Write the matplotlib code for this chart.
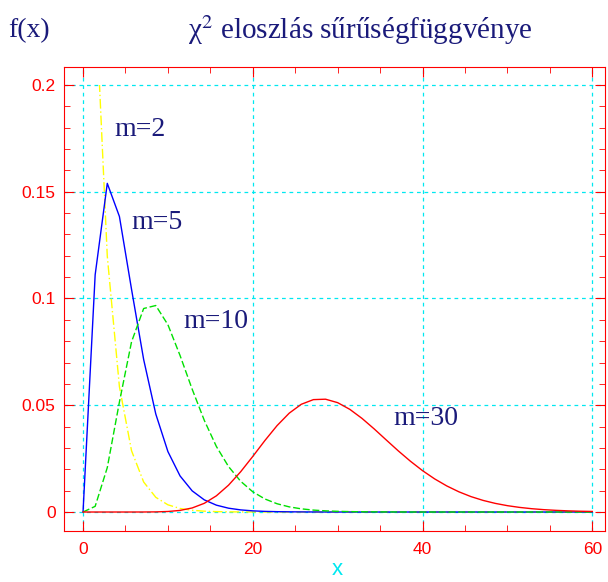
import matplotlib
matplotlib.use('Agg')
import matplotlib.pyplot as plt
from matplotlib.patches import Rectangle
from matplotlib.ticker import MultipleLocator

# sampling grid, 43 points from 0 to 60
x = [0, 1.429, 2.857, 4.286, 5.714, 7.143, 8.571, 10, 11.43, 12.86, 14.29,
     15.71, 17.14, 18.57, 20, 21.43, 22.86, 24.29, 25.71, 27.14, 28.57, 30,
     31.43, 32.86, 34.29, 35.71, 37.14, 38.57, 40, 41.43, 42.86, 44.29, 45.71,
     47.14, 48.57, 50, 51.43, 52.86, 54.29, 55.71, 57.14, 58.57, 60]

m2 = [0.5, 0.2448, 0.1198, 0.0587, 0.0287, 0.01405, 0.00688, 0.00337, 0.00165,
      0.00081, 0.00039, 0.00019, 0.00009, 0.00004, 0.00002, 0.00001] + [0] * 27

m5 = [0, 0.1111, 0.1539, 0.1384, 0.1043, 0.0714, 0.0459, 0.0283, 0.0169,
      0.0099, 0.00568, 0.00321, 0.00179, 0.00099, 0.00054, 0.00029, 0.00016,
      0.00009, 0.00005, 0.00002, 0.00001] + [0] * 22

m10 = [0, 0.00266, 0.0208, 0.0515, 0.0797, 0.0953, 0.0967, 0.0877, 0.0733,
       0.0575, 0.0429, 0.0307, 0.0213, 0.0144, 0.00946, 0.0061, 0.00387,
       0.00241, 0.00149, 0.0009, 0.00054, 0.00032, 0.00019, 0.00011, 0.00007,
       0.00004, 0.00002, 0.00001] + [0] * 15

m30 = [0, 0, 0, 0, 0, 0.00001, 0.00006, 0.00024, 0.00075, 0.0019, 0.00408,
       0.00758, 0.01256, 0.01885, 0.02603, 0.03349, 0.04046, 0.04628, 0.05044,
       0.05263, 0.05283, 0.05121, 0.04808, 0.04386, 0.03896, 0.03379, 0.02864,
       0.02379, 0.01937, 0.0155, 0.0122, 0.00945, 0.00721, 0.00543, 0.00404,
       0.00297, 0.00216, 0.00155, 0.0011, 0.00078, 0.00054, 0.00037, 0.00026]

labels = ['m=2', 'm=5', 'm=10', 'm=30']
label_pos = [(6.7, 0.179), (8.7, 0.1354), (15.6, 0.089), (40.4, 0.044)]

navy = '#1a1a7a'
red = '#ff0000'
cyan = '#00e8f0'

plt.rcParams['mathtext.fontset'] = 'stix'

fig = plt.figure(figsize=(6.08, 5.82), dpi=100)
ax = fig.add_axes([0.1053, 0.0876, 0.8898, 0.7973])

# curves are cut at 0.2 like in the original
clip = Rectangle((-5, -0.05), 70, 0.25, transform=ax.transData)

l1, = ax.plot(x, m2, color='#ffff00', lw=1.0, dashes=(7, 2, 1, 2))
l2, = ax.plot(x, m5, color='#0000ff', lw=1.0)
l3, = ax.plot(x, m10, color='#00e000', lw=1.0, dashes=(5, 2))
l4, = ax.plot(x, m30, color='#ff0000', lw=1.0)
for ln in (l1, l2, l3, l4):
    ln.set_clip_path(clip)

for txt, (tx, ty) in zip(labels, label_pos):
    ax.text(tx, ty, txt, color=navy, fontsize=20, family='Liberation Serif',
            ha='center', va='center')

ax.set_xlim(-2.24, 61.5)
ax.set_ylim(-0.0089, 0.2084)

ax.xaxis.set_major_locator(MultipleLocator(20))
ax.xaxis.set_minor_locator(MultipleLocator(5))
ax.yaxis.set_minor_locator(MultipleLocator(0.01))
ax.set_yticks([0, 0.05, 0.1, 0.15, 0.2])
ax.set_yticklabels(['0', '0.05', '0.1', '0.15', '0.2'])

ax.grid(True, which='major', color=cyan, linestyle=(0, (3, 3)), lw=0.9)
ax.tick_params(which='both', direction='in', colors=red, top=True, right=True,
               labelsize=12.5)
ax.tick_params(axis='x', pad=8)
ax.tick_params(axis='y', pad=6)
ax.tick_params(which='major', length=7)
ax.tick_params(which='minor', length=4.5)
for lab in ax.get_xticklabels() + ax.get_yticklabels():
    lab.set_family('Liberation Sans')
for sp in ax.spines.values():
    sp.set_color(red)

fig.text(0.592, 0.948, 'χ$^{2}$ eloszlás sűrűségfüggvénye', color=navy,
         fontsize=21, family='Liberation Serif', ha='center', va='center')
fig.text(0.013, 0.948, 'f(x)', color=navy, fontsize=20,
         family='Liberation Serif', ha='left', va='center')
fig.text(0.554, 0.004, 'x', color=cyan, fontsize=16, family='Liberation Sans',
         ha='center', va='bottom')

fig.savefig('out.png', dpi=100)
